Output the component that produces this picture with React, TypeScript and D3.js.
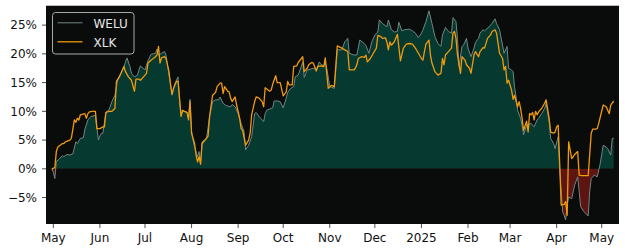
import React from "react";
import * as d3 from "d3";

const seriesNames = ["WELU", "XLK"];

const weluDates = [
"2024-04-30","2024-05-01","2024-05-02","2024-05-03","2024-05-05","2024-05-07","2024-05-08","2024-05-10","2024-05-12","2024-05-14",
"2024-05-16","2024-05-17","2024-05-19","2024-05-21","2024-05-22","2024-05-24","2024-05-26","2024-05-29","2024-05-31","2024-06-01",
"2024-06-02","2024-06-03","2024-06-05","2024-06-07","2024-06-09","2024-06-11","2024-06-13","2024-06-15","2024-06-17","2024-06-19",
"2024-06-21","2024-06-22","2024-06-24","2024-06-26","2024-06-27","2024-06-28","2024-07-01","2024-07-03","2024-07-05","2024-07-08",
"2024-07-09","2024-07-10","2024-07-12","2024-07-14","2024-07-15","2024-07-17","2024-07-18","2024-07-19","2024-07-21","2024-07-23",
"2024-07-24","2024-07-25","2024-07-26","2024-07-29","2024-07-30","2024-07-31","2024-08-01","2024-08-02","2024-08-03","2024-08-04",
"2024-08-05","2024-08-06","2024-08-07","2024-08-08","2024-08-11","2024-08-13","2024-08-15","2024-08-17","2024-08-19","2024-08-20",
"2024-08-22","2024-08-24","2024-08-27","2024-08-28","2024-08-30","2024-09-01","2024-09-03","2024-09-05","2024-09-06","2024-09-08",
"2024-09-10","2024-09-12","2024-09-13","2024-09-15","2024-09-16","2024-09-18","2024-09-19","2024-09-20","2024-09-22","2024-09-24",
"2024-09-25","2024-09-27","2024-09-29","2024-10-01","2024-10-03","2024-10-04","2024-10-06","2024-10-08","2024-10-09","2024-10-11",
"2024-10-13","2024-10-14","2024-10-15","2024-10-17","2024-10-20","2024-10-21","2024-10-23","2024-10-25","2024-10-26","2024-10-28",
"2024-10-29","2024-10-30","2024-11-01","2024-11-02","2024-11-04","2024-11-06","2024-11-09","2024-11-11","2024-11-13","2024-11-14",
"2024-11-17","2024-11-19","2024-11-21","2024-11-23","2024-11-25","2024-11-27","2024-11-29","2024-12-01","2024-12-03","2024-12-04",
"2024-12-06","2024-12-09","2024-12-10","2024-12-12","2024-12-14","2024-12-16","2024-12-17","2024-12-19","2024-12-21","2024-12-24",
"2024-12-26","2024-12-28","2024-12-30","2025-01-01","2025-01-02","2025-01-04","2025-01-06","2025-01-08","2025-01-10","2025-01-12",
"2025-01-14","2025-01-15","2025-01-17","2025-01-19","2025-01-21","2025-01-22","2025-01-24","2025-01-25","2025-01-26","2025-01-28",
"2025-01-29","2025-01-31","2025-02-01","2025-02-03","2025-02-05","2025-02-06","2025-02-08","2025-02-09","2025-02-11","2025-02-12",
"2025-02-15","2025-02-17","2025-02-19","2025-02-20","2025-02-22","2025-02-24","2025-02-25","2025-02-27","2025-02-28","2025-03-02",
"2025-03-03","2025-03-04","2025-03-05","2025-03-06","2025-03-08","2025-03-09","2025-03-10","2025-03-12","2025-03-13","2025-03-15",
"2025-03-17","2025-03-19","2025-03-20","2025-03-22","2025-03-24","2025-03-25","2025-03-27","2025-03-28","2025-03-30","2025-03-31",
"2025-04-02","2025-04-03","2025-04-05","2025-04-06","2025-04-07","2025-04-08","2025-04-09","2025-04-11","2025-04-12","2025-04-13",
"2025-04-15","2025-04-16","2025-04-17","2025-04-19","2025-04-22","2025-04-23","2025-04-24","2025-04-26","2025-04-28","2025-04-30",
"2025-05-02","2025-05-04","2025-05-05","2025-05-07","2025-05-08","2025-05-09"
];
const weluValues = [
0.0,-0.6,-1.7,1.3,1.7,2.3,2.1,2.5,2.4,2.6,
4.7,4.4,5.3,5.4,6.9,8.5,9.1,9.3,5.0,5.7,
6.2,6.2,9.9,10.2,11.7,12.8,15.7,16.6,17.8,19.3,
17.8,16.6,16.0,16.3,17.2,17.9,17.2,18.8,19.9,20.1,
20.8,19.8,20.1,20.4,19.8,16.3,14.9,12.8,14.9,16.0,
12.0,9.3,10.0,9.9,8.7,12.1,6.5,5.0,3.8,3.0,
2.1,3.0,0.9,4.7,5.3,9.1,11.7,12.0,12.0,12.5,
11.4,11.0,10.8,11.2,10.8,9.6,7.9,6.4,3.3,4.1,
5.6,9.6,9.8,9.1,8.8,8.2,9.6,10.2,10.4,10.6,
11.8,11.8,11.7,10.6,12.3,13.3,14.0,14.3,16.0,16.3,
17.8,18.6,15.9,17.2,17.4,17.5,17.2,18.6,18.2,17.9,
18.6,17.5,14.3,14.2,14.0,20.7,20.7,22.1,22.7,20.1,
19.8,19.8,22.4,22.0,21.5,20.1,22.1,23.3,23.8,25.9,
25.3,24.7,25.9,24.2,23.8,23.9,25.5,24.0,24.2,24.3,
24.0,23.6,22.8,23.6,24.2,25.6,27.5,25.3,23.0,21.8,
21.3,23.3,24.6,23.9,23.6,26.3,25.6,22.7,17.8,21.3,
21.5,22.7,21.0,19.5,21.0,22.0,22.7,23.6,24.2,24.0,
24.7,25.3,26.1,25.3,24.2,21.5,20.1,21.3,17.5,17.2,
16.9,14.2,12.5,10.2,8.8,7.6,5.9,7.6,7.7,7.9,
7.3,8.5,8.8,9.6,10.5,11.4,8.2,5.3,4.4,3.5,
5.6,0.1,-7.5,-8.1,-8.9,-6.3,-4.9,-5.2,-4.0,-2.8,
-1.4,-4.0,-6.6,-7.4,-8.2,-4.0,-1.7,-1.1,-1.4,0.9,
4.1,3.8,3.5,2.4,5.3,5.3
];

const xlkDates = [
"2024-04-30","2024-05-02","2024-05-03","2024-05-04","2024-05-06","2024-05-07","2024-05-08","2024-05-09","2024-05-12","2024-05-13",
"2024-05-15","2024-05-16","2024-05-17","2024-05-18","2024-05-19","2024-05-22","2024-05-23","2024-05-24","2024-05-25","2024-05-27",
"2024-05-29","2024-05-30","2024-06-01","2024-06-03","2024-06-04","2024-06-05","2024-06-07","2024-06-09","2024-06-11","2024-06-12",
"2024-06-14","2024-06-16","2024-06-17","2024-06-18","2024-06-20","2024-06-22","2024-06-24","2024-06-25","2024-06-27","2024-06-28",
"2024-06-30","2024-07-02","2024-07-03","2024-07-05","2024-07-08","2024-07-09","2024-07-10","2024-07-11","2024-07-12","2024-07-14",
"2024-07-15","2024-07-17","2024-07-18","2024-07-19","2024-07-20","2024-07-22","2024-07-23","2024-07-24","2024-07-25","2024-07-26",
"2024-07-28","2024-07-29","2024-07-30","2024-07-31","2024-08-01","2024-08-03","2024-08-04","2024-08-05","2024-08-06","2024-08-07",
"2024-08-08","2024-08-10","2024-08-12","2024-08-13","2024-08-15","2024-08-17","2024-08-18","2024-08-20","2024-08-21","2024-08-22",
"2024-08-23","2024-08-25","2024-08-26","2024-08-27","2024-08-28","2024-08-30","2024-08-31","2024-09-02","2024-09-03","2024-09-04",
"2024-09-06","2024-09-08","2024-09-09","2024-09-10","2024-09-12","2024-09-13","2024-09-15","2024-09-17","2024-09-18","2024-09-19",
"2024-09-22","2024-09-23","2024-09-24","2024-09-26","2024-09-27","2024-09-29","2024-10-01","2024-10-03","2024-10-04","2024-10-05",
"2024-10-07","2024-10-08","2024-10-10","2024-10-11","2024-10-14","2024-10-15","2024-10-17","2024-10-18","2024-10-20","2024-10-21",
"2024-10-23","2024-10-24","2024-10-26","2024-10-28","2024-10-29","2024-10-30","2024-10-31","2024-11-02","2024-11-04","2024-11-06",
"2024-11-09","2024-11-11","2024-11-13","2024-11-14","2024-11-17","2024-11-18","2024-11-19","2024-11-20","2024-11-22","2024-11-24",
"2024-11-25","2024-11-26","2024-11-28","2024-11-30","2024-12-02","2024-12-03","2024-12-05","2024-12-06","2024-12-08","2024-12-09",
"2024-12-10","2024-12-11","2024-12-12","2024-12-14","2024-12-16","2024-12-18","2024-12-20","2024-12-22","2024-12-24","2024-12-26",
"2024-12-28","2024-12-30","2025-01-01","2025-01-02","2025-01-03","2025-01-04","2025-01-06","2025-01-07","2025-01-08","2025-01-10",
"2025-01-12","2025-01-14","2025-01-15","2025-01-16","2025-01-17","2025-01-19","2025-01-21","2025-01-22","2025-01-23","2025-01-24",
"2025-01-25","2025-01-27","2025-01-28","2025-01-30","2025-01-31","2025-02-02","2025-02-03","2025-02-05","2025-02-06","2025-02-08",
"2025-02-09","2025-02-11","2025-02-12","2025-02-14","2025-02-16","2025-02-17","2025-02-19","2025-02-20","2025-02-22","2025-02-24",
"2025-02-25","2025-02-26","2025-02-27","2025-02-28","2025-03-02","2025-03-03","2025-03-04","2025-03-06","2025-03-07","2025-03-08",
"2025-03-09","2025-03-10","2025-03-12","2025-03-13","2025-03-14","2025-03-15","2025-03-16","2025-03-17","2025-03-18","2025-03-19",
"2025-03-20","2025-03-22","2025-03-24","2025-03-25","2025-03-27","2025-03-28","2025-03-30","2025-03-31","2025-04-01","2025-04-02",
"2025-04-03","2025-04-04","2025-04-06","2025-04-07","2025-04-08","2025-04-09","2025-04-11","2025-04-12","2025-04-13","2025-04-15",
"2025-04-16","2025-04-18","2025-04-21","2025-04-22","2025-04-24","2025-04-25","2025-04-27","2025-04-28","2025-04-29","2025-05-02",
"2025-05-04","2025-05-06","2025-05-07","2025-05-09"
];
const xlkValues = [
0.0,0.2,3.0,3.8,4.2,4.4,4.4,4.7,5.0,5.3,
8.5,8.1,8.8,8.5,9.4,9.6,8.8,9.6,9.9,10.0,
10.0,7.0,7.0,7.3,7.3,9.8,10.0,10.0,10.5,15.2,
16.0,17.2,17.8,16.9,16.0,15.4,13.5,15.6,15.6,15.4,
16.0,16.6,18.4,18.9,19.5,19.8,21.3,18.4,19.3,19.5,
19.2,16.9,14.6,13.0,14.0,15.2,15.2,12.3,9.1,10.2,
9.9,9.8,8.5,11.7,6.2,4.4,2.4,1.2,2.1,0.8,
4.4,5.0,5.7,9.1,12.8,13.3,14.3,14.9,14.9,13.1,
14.3,13.5,13.4,12.3,11.7,12.5,11.1,8.8,7.0,6.7,
4.1,5.0,6.2,9.4,11.7,12.5,12.3,11.7,10.8,14.1,
13.5,13.7,14.7,16.2,15.0,15.0,12.7,13.4,15.2,14.6,
14.6,17.8,17.9,18.5,19.5,16.9,17.5,18.1,18.5,18.4,
17.0,17.8,17.9,17.8,19.3,16.6,14.0,14.5,14.3,21.4,
21.0,20.7,20.4,17.2,17.2,17.5,18.1,19.2,19.5,19.4,
19.8,18.6,19.2,20.1,21.0,23.2,23.0,22.7,22.8,22.1,
20.7,22.1,21.5,22.1,23.4,18.8,21.0,21.7,21.8,21.7,
21.0,20.1,19.2,18.9,20.4,21.7,22.4,19.8,18.4,16.9,
16.3,16.6,19.2,18.1,19.8,20.4,21.0,23.6,23.9,22.7,
19.8,16.6,19.5,18.9,18.1,17.5,16.6,19.8,20.4,19.5,
20.4,21.1,21.0,22.7,23.3,23.9,24.2,23.6,20.1,19.2,
17.2,17.8,14.9,15.4,13.7,12.1,12.8,10.8,11.7,10.5,
8.8,6.7,8.3,6.4,9.6,9.4,9.8,8.5,10.0,9.4,
9.9,10.5,11.4,12.0,8.8,6.4,6.2,6.4,7.3,7.6,
1.2,-6.3,-6.2,-5.7,-8.1,4.7,1.8,2.1,2.5,3.0,
-1.1,-1.2,-1.2,-1.2,6.2,6.9,6.9,7.0,7.9,11.1,
10.8,9.6,11.1,11.8
];

const yTicks = [-5, 0, 5, 10, 15, 20, 25];
const xTickDates = [
"2024-05-01","2024-06-01","2024-07-01","2024-08-01","2024-09-01","2024-10-01","2024-11-01",
"2024-12-01","2025-01-01","2025-02-01","2025-03-01","2025-04-01","2025-05-01"
];
const xTickLabels = ["May","Jun","Jul","Aug","Sep","Oct","Nov","Dec","2025","Feb","Mar","Apr","May"];

type Pt = { date: Date; v: number };

export default function App() {
  const W = 625, H = 250;
  const left = 46, right = 619, top = 5, bottom = 224;
  const parse = d3.utcParse("%Y-%m-%d");

  const x = d3
    .scaleUtc()
    .domain([new Date(Date.UTC(2024, 3, 26, 3)), new Date(Date.UTC(2025, 4, 12, 12))])
    .range([left, right]);
  const y = d3.scaleLinear().domain([-9.6, 28.5]).range([bottom, top]);

  const welu: Pt[] = weluDates.map((d, i) => ({ date: parse(d) as Date, v: weluValues[i] }));
  const xlk: Pt[] = xlkDates.map((d, i) => ({ date: parse(d) as Date, v: xlkValues[i] }));

  const area = d3
    .area<Pt>()
    .x((d) => x(d.date))
    .y0(y(0))
    .y1((d) => y(d.v));
  const line = d3
    .line<Pt>()
    .x((d) => x(d.date))
    .y((d) => y(d.v));

  const y0 = y(0);
  const font = "DejaVu Sans, sans-serif";

  return (
    <svg
      width={W}
      height={H}
      style={{ position: "absolute", left: 0, top: 0, display: "block", background: "#ffffff" }}
    >
      <defs>
        <clipPath id="above">
          <rect x={left} y={top} width={right - left} height={y0 - top} />
        </clipPath>
        <clipPath id="below">
          <rect x={left} y={y0} width={right - left} height={bottom - y0} />
        </clipPath>
        <clipPath id="plot">
          <rect x={left} y={top} width={right - left} height={bottom - top} />
        </clipPath>
      </defs>
      <rect x={left} y={top} width={right - left} height={bottom - top} fill="#0a0c0b" />
      <g clipPath="url(#plot)">
        <path d={area(welu) || ""} fill="#063a30" clipPath="url(#above)" />
        <path d={area(welu) || ""} fill="#5e1411" clipPath="url(#below)" />
        <path d={line(welu) || ""} fill="none" stroke="#6f8582" strokeWidth={1} />
        <path d={line(xlk) || ""} fill="none" stroke="#f09a0c" strokeWidth={1.3} strokeLinejoin="round" />
      </g>
      <line x1={left} y1={top + 0.5} x2={right} y2={top + 0.5} stroke="#bdbdbd" strokeWidth={1} />

      {yTicks.map((t) => (
        <g key={"y" + t}>
          <line x1={left - 4} x2={left} y1={y(t)} y2={y(t)} stroke="#222" strokeWidth={0.8} />
          <text
            x={37}
            y={y(t)}
            dy="0.36em"
            textAnchor="end"
            fontFamily={font}
            fontSize={12}
            fill="#111"
          >
            {(t < 0 ? "\u2212" + Math.abs(t) : String(t)) + "%"}
          </text>
        </g>
      ))}

      {xTickDates.map((d, i) => {
        const xx = x(parse(d) as Date);
        return (
          <g key={"x" + d}>
            <line x1={xx} x2={xx} y1={bottom} y2={bottom + 4} stroke="#222" strokeWidth={0.8} />
            <text x={xx} y={242} textAnchor="middle" fontFamily={font} fontSize={12} fill="#111">
              {xTickLabels[i]}
            </text>
          </g>
        );
      })}

      <g>
        <rect x={52.5} y={12.5} width={81.5} height={41.5} rx={3} fill="#0a0c0b" stroke="#a8a8a8" strokeWidth={1} />
        <line x1={57.5} x2={82.5} y1={22.8} y2={22.8} stroke="#6f8582" strokeWidth={1} />
        <line x1={57.5} x2={82.5} y1={41.8} y2={41.8} stroke="#f09a0c" strokeWidth={1.3} />
        <text x={93.5} y={28} fontFamily={font} fontSize={12} fill="#e6e6e6">
          {seriesNames[0]}
        </text>
        <text x={93.5} y={46.8} fontFamily={font} fontSize={12} fill="#e6e6e6">
          {seriesNames[1]}
        </text>
      </g>
    </svg>
  );
}
